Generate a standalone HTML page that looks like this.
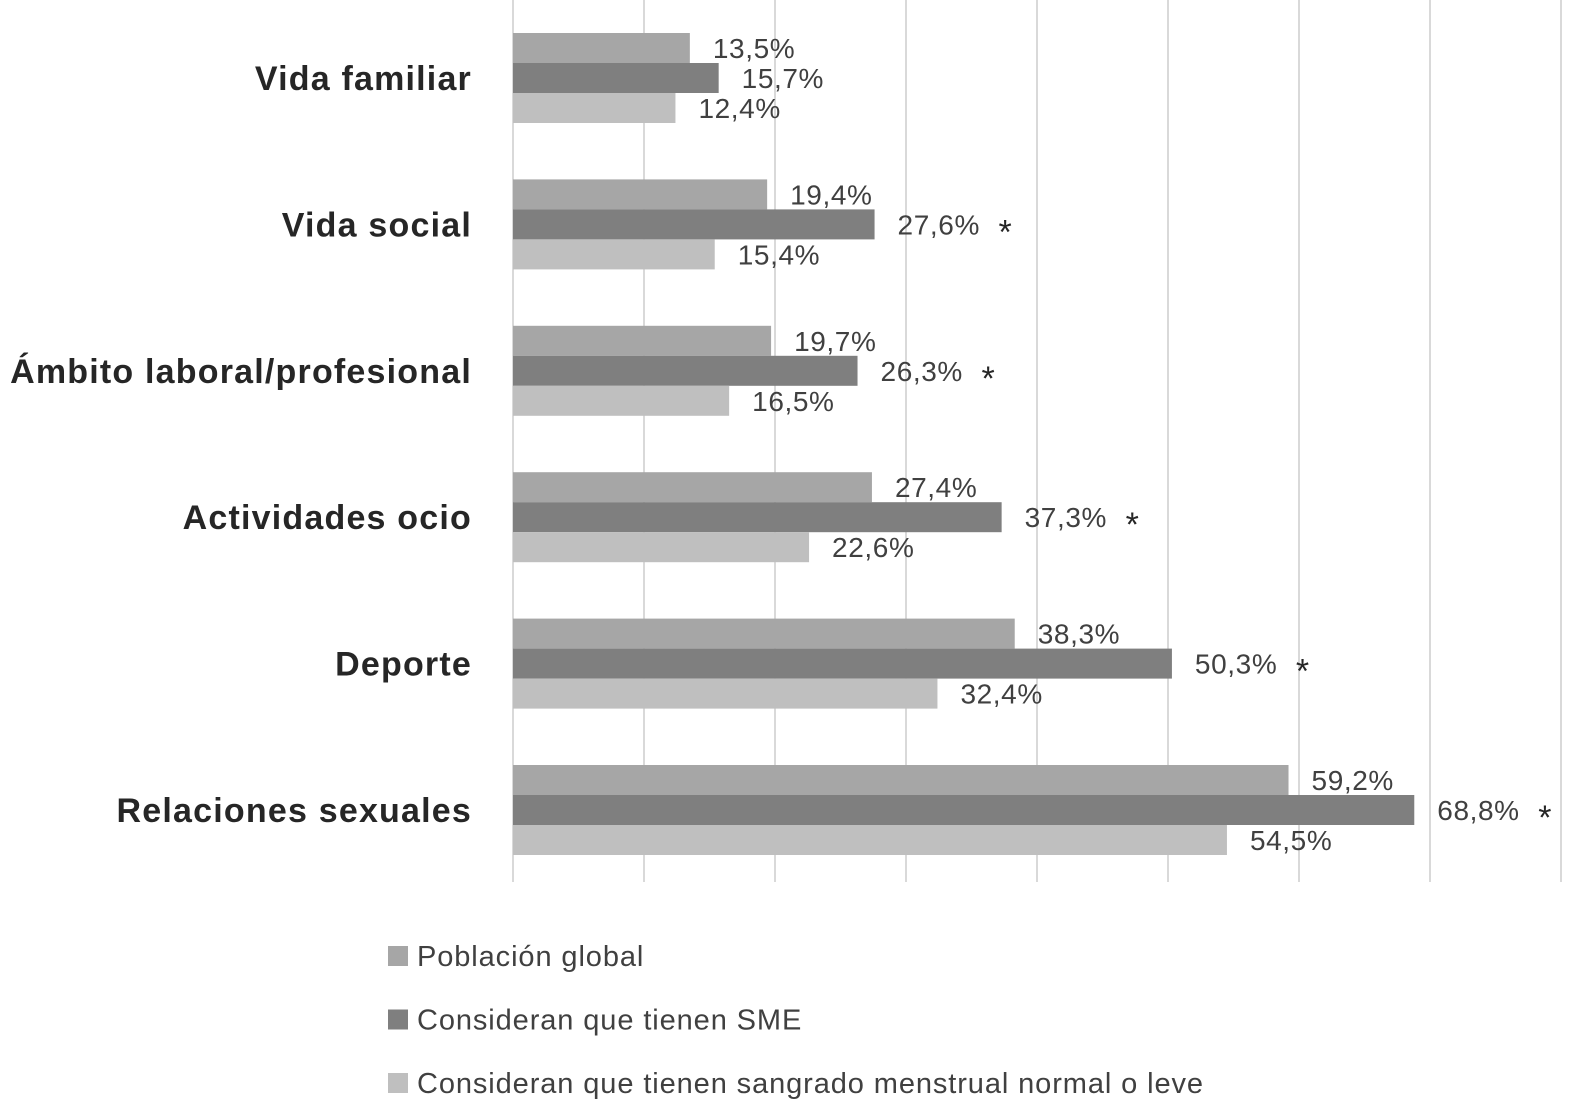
<!DOCTYPE html>
<html><head><meta charset="utf-8"><style>
body{margin:0;background:#fff;}
svg{display:block;font-family:"Liberation Sans",sans-serif;}
</style></head><body>
<svg id="chart" width="1591" height="1119"></svg>
<script>
const categories=["Vida familiar","Vida social","Ámbito laboral/profesional","Actividades ocio","Deporte","Relaciones sexuales"];
const globalValues=[13.5,19.4,19.7,27.4,38.3,59.2];
const smeValues=[15.7,27.6,26.3,37.3,50.3,68.8];
const normalValues=[12.4,15.4,16.5,22.6,32.4,54.5];
const significant=[false,true,true,true,true,true];
const seriesNames=["Población global","Consideran que tienen SME","Consideran que tienen sangrado menstrual normal o leve"];
const gridTicks=[0,10,20,30,40,50,60,70,80];

const svg=document.getElementById('chart');
const NS='http://www.w3.org/2000/svg';
const x0=513,pxPer=13.1,top0=33,groupH=146.4,barH=30;
const colors=["#a6a6a6","#7f7f7f","#bfbfbf"];
const series=[globalValues,smeValues,normalValues];
const xs=v=>x0+v*pxPer;
function mk(tag,attrs,parent){const e=document.createElementNS(NS,tag);for(const k in attrs)e.setAttribute(k,attrs[k]);(parent||svg).appendChild(e);return e;}

gridTicks.forEach((t,i)=>{
  const l=mk('line',{x1:xs(t),x2:xs(t),y1:0,y2:882,stroke:'#d9d9d9','stroke-width':2});
  
  
});

categories.forEach((c,g)=>{
  const gy=top0+g*groupH;
  const lab=mk('text',{x:472,y:gy+45+12,'text-anchor':'end','font-size':34,'font-weight':'bold',fill:'#262626','letter-spacing':1.2});
  lab.textContent=c;
  
  
  series.forEach((s,k)=>{
    const v=s[g];const y=gy+k*barH;
    const r=mk('rect',{x:x0,y:y,width:xs(v)-x0,height:barH,fill:colors[k]});
    
    
    const t=mk('text',{x:xs(v)+23,y:y+barH/2+10,'font-size':28,fill:'#404040','letter-spacing':0.6});
    t.textContent=v.toFixed(1).replace('.',',')+'%';
    
    
    if(k===1&&significant[g]){
      const a=mk('text',{x:xs(v)+124,y:y+barH/2+19,'font-size':34,fill:'#262626'});
      a.textContent='*';
      
      
    }
  });
});

seriesNames.forEach((n,k)=>{
  const y=956+k*63.5;
  const sw=mk('rect',{x:388,y:y-10,width:20,height:20,fill:colors[k]});
  
  
  const t=mk('text',{x:417,y:y+10,'font-size':29,fill:'#404040','letter-spacing':0.9});
  t.textContent=n;
  
  
});
</script>
</body></html>
